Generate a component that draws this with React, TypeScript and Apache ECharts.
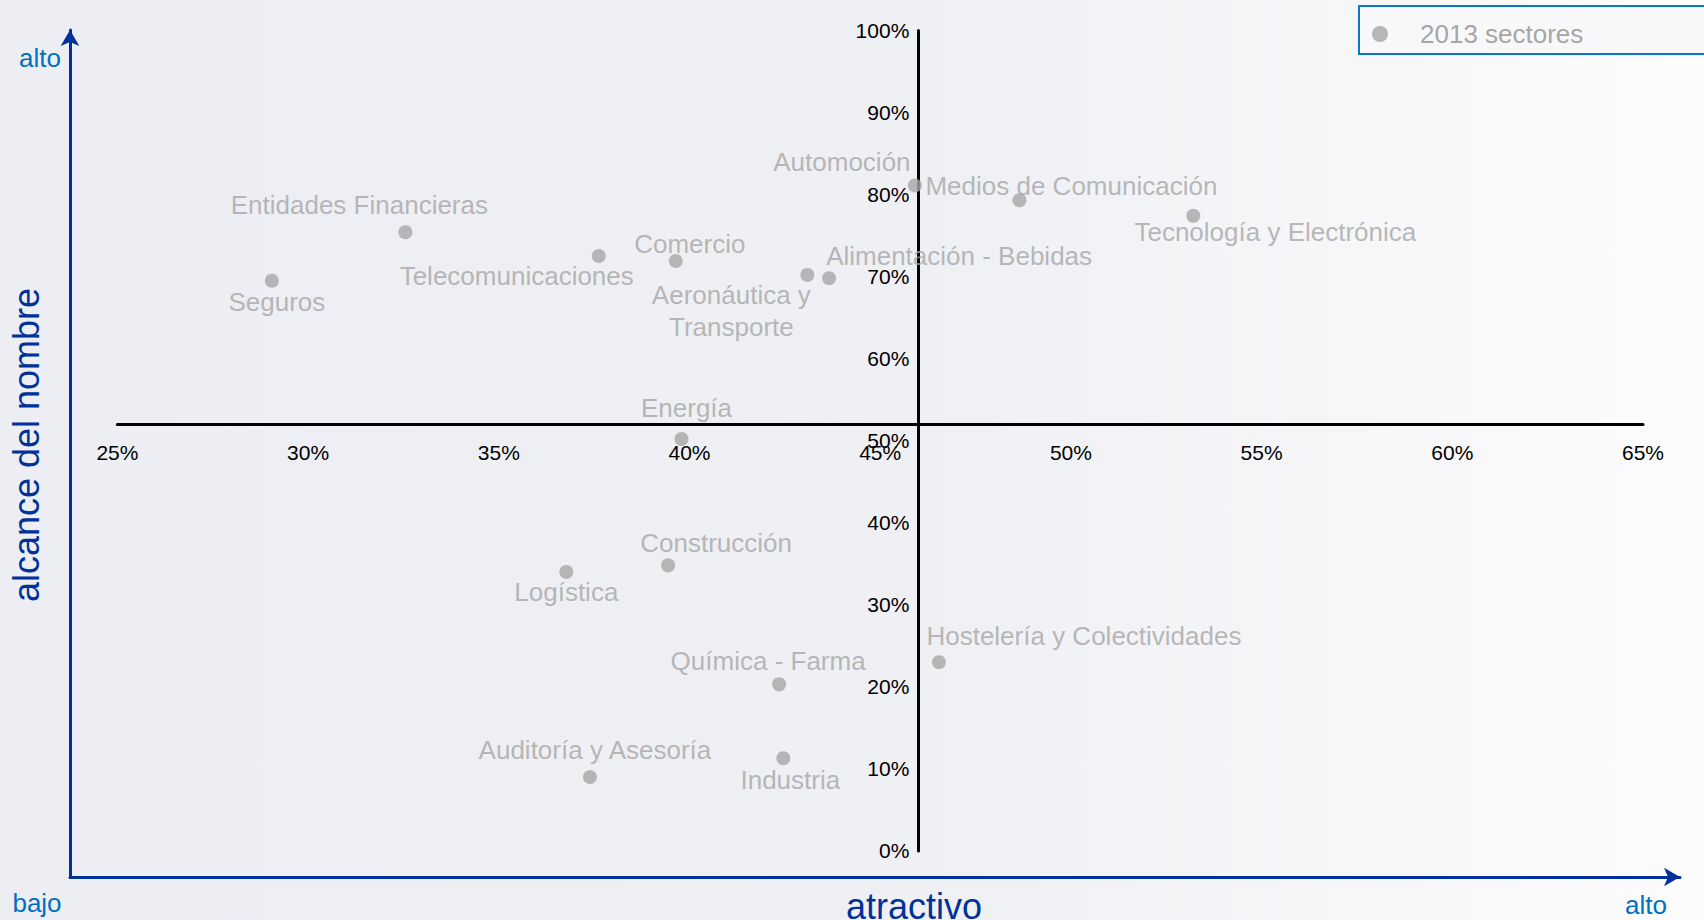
import React, { useEffect, useRef } from "react";
import * as echarts from "echarts";

// ---- data ----
const sectors = [
  "Seguros",
  "Entidades Financieras",
  "Telecomunicaciones",
  "Comercio",
  "Aeronáutica y\nTransporte",
  "Alimentación - Bebidas",
  "Automoción",
  "Medios de Comunicación",
  "Tecnología y Electrónica",
  "Energía",
  "Construcción",
  "Logística",
  "Hostelería y Colectividades",
  "Química - Farma",
  "Industria",
  "Auditoría y Asesoría",
];
const attractiveness = [29.05, 32.55, 37.62, 39.64, 43.09, 43.66, 45.91, 48.65, 53.21, 39.79, 39.44, 36.77, 46.54, 42.35, 42.46, 37.39];
const reach = [69.5, 75.4, 72.5, 71.9, 70.2, 69.8, 81.1, 79.3, 77.4, 50.2, 34.8, 34.0, 23.0, 20.3, 11.3, 9.0];
const seriesName = "2013 sectores";
const xRange = { min: 25, max: 65, step: 5 };
const yRange = { min: 0, max: 100, step: 10 };
const crossAt = { x: 46, y: 52 };

// ---- layout (label placement in px) ----
const labelOffsets: [number, number][] = [
  [5, 21], [-46, -27], [-82, 20], [14, -17], [-76, 36], [130, -22], [-73, -23], [52, -14],
  [82, 16], [5, -31], [48, -22], [0, 20], [145, -26], [-11, -23], [7, 22], [5, -27],
];

const FONT = "'Liberation Sans', Arial, sans-serif";

export default function App() {
  const ref = useRef<HTMLDivElement>(null);
  useEffect(() => {
    document.body.style.margin = "0";
    const chart = echarts.init(ref.current!, null, { renderer: "svg" });

    const W = 1704, H = 920;
    const g0 = { left: 117.4, right: 61, top: 30.4, bottom: 69.1 };
    const plotW = W - g0.left - g0.right;
    const plotH = H - g0.top - g0.bottom;
    const yAxisOffset = -((crossAt.x - xRange.min) / (xRange.max - xRange.min)) * plotW;
    const xAxisOffset = -((crossAt.y - yRange.min) / (yRange.max - yRange.min)) * plotH;

    const data = sectors.map((name, i) => ({
      name,
      value: [attractiveness[i], reach[i]],
      label: { offset: labelOffsets[i] },
    }));

    const noDeco = {
      axisTick: { show: false },
      splitLine: { show: false },
    };
    const blueAxisLine = {
      show: true,
      onZero: false,
      symbol: ["none", "arrow"],
      symbolSize: [14, 16],
      lineStyle: { color: "#00329A", width: 3 },
    };

    chart.setOption({
      animation: false,
      backgroundColor: "#EEEFF3",
      legend: {
        left: 1359,
        top: 6,
        padding: [15, 200, 7, 13],
        borderColor: "#0A77C9",
        borderWidth: 2,
        backgroundColor: "#F8F8FA",
        icon: "circle",
        itemWidth: 16,
        itemHeight: 16,
        selectedMode: false,
        textStyle: { color: "#A6A6A6", fontSize: 26, fontFamily: FONT, padding: [0, 0, 0, 27] },
        data: [seriesName],
      },
      grid: [
        { ...g0 },
        { left: 70, right: 24, top: 30, bottom: 43 },
      ],
      xAxis: [
        {
          gridIndex: 0,
          type: "value",
          min: xRange.min,
          max: xRange.max,
          interval: xRange.step,
          position: "bottom",
          offset: xAxisOffset,
          axisLine: { show: true, onZero: false, lineStyle: { color: "#000", width: 3 } },
          axisLabel: { formatter: "{value}%", color: "#000", fontSize: 21, fontFamily: FONT, margin: 18 },
          ...noDeco,
        },
        {
          gridIndex: 1,
          type: "value",
          min: 0,
          max: 1,
          axisLine: blueAxisLine,
          axisLabel: { show: false },
          ...noDeco,
        },
      ],
      yAxis: [
        {
          gridIndex: 0,
          type: "value",
          min: yRange.min,
          max: yRange.max,
          interval: yRange.step,
          position: "left",
          offset: yAxisOffset,
          axisLine: { show: true, onZero: false, lineStyle: { color: "#000", width: 3 } },
          axisLabel: { formatter: "{value}%", color: "#000", fontSize: 21, fontFamily: FONT, margin: 9 },
          ...noDeco,
        },
        {
          gridIndex: 1,
          type: "value",
          min: 0,
          max: 1,
          axisLine: blueAxisLine,
          axisLabel: { show: false },
          ...noDeco,
        },
      ],
      graphic: [
        {
          type: "rect",
          z: -100,
          silent: true,
          shape: { x: 0, y: 0, width: W, height: H },
          style: {
            fill: new echarts.graphic.LinearGradient(0, 0, 1, 0, [
              { offset: 0, color: "#EDEEF3" },
              { offset: 0.55, color: "#EFF0F4" },
              { offset: 1, color: "#FCFCFD" },
            ]),
          },
        },
        {
          type: "text", x: 40, y: 58,
          style: { text: "alto", fill: "#0070C0", font: `26px ${FONT}`, textAlign: "center", textVerticalAlign: "middle" },
        },
        {
          type: "text", x: 37, y: 903,
          style: { text: "bajo", fill: "#0070C0", font: `26px ${FONT}`, textAlign: "center", textVerticalAlign: "middle" },
        },
        {
          type: "text", x: 1646, y: 905,
          style: { text: "alto", fill: "#0070C0", font: `26px ${FONT}`, textAlign: "center", textVerticalAlign: "middle" },
        },
        {
          type: "text", x: 914, y: 906,
          style: { text: "atractivo", fill: "#00329A", font: `36px ${FONT}`, textAlign: "center", textVerticalAlign: "middle" },
        },
        {
          type: "text", x: 26, y: 445, rotation: Math.PI / 2,
          style: { text: "alcance del nombre", fill: "#00329A", font: `36px ${FONT}`, textAlign: "center", textVerticalAlign: "middle" },
        },
      ],
      series: [
        {
          type: "scatter",
          name: seriesName,
          xAxisIndex: 0,
          yAxisIndex: 0,
          symbol: "circle",
          symbolSize: 14,
          itemStyle: { color: "#A6A6A6" },
          label: {
            show: true,
            position: "inside",
            formatter: "{b}",
            color: "#A6A6A6",
            fontSize: 26,
            fontFamily: FONT,
            lineHeight: 32,
            align: "center",
            verticalAlign: "middle",
          },
          data,
        },
      ],
    });
    return () => chart.dispose();
  }, []);
  return <div ref={ref} style={{ width: 1704, height: 920 }} />;
}
